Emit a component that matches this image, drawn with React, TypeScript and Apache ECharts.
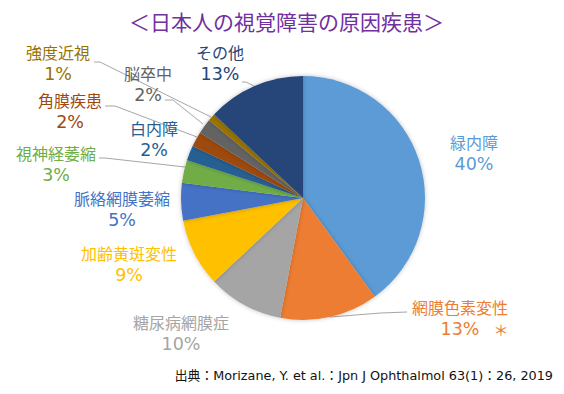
import React, { useEffect, useRef } from "react";
import * as echarts from "echarts";

const title = "＜日本人の視覚障害の原因疾患＞";
const source = "出典：Morizane, Y. et al.：Jpn J Ophthalmol 63(1)：26, 2019";
const categories = [
  "緑内障",
  "網膜色素変性",
  "糖尿病網膜症",
  "加齢黄斑変性",
  "脈絡網膜萎縮",
  "視神経萎縮",
  "白内障",
  "角膜疾患",
  "脳卒中",
  "強度近視",
  "その他",
];
const values = [40, 13, 10, 9, 5, 3, 2, 2, 2, 1, 13];
const sliceColors = [
  "#5B9BD5",
  "#ED7D31",
  "#A5A5A5",
  "#FFC000",
  "#4472C4",
  "#70AD47",
  "#255E91",
  "#9E480E",
  "#636363",
  "#997300",
  "#264478",
];
const labelColors = [
  "#5B9BD5",
  "#ED7D31",
  "#A5A5A5",
  "#FFC000",
  "#4472C4",
  "#70AD47",
  "#255E91",
  "#9E480E",
  "#636363",
  "#997300",
  "#264478",
];
// label centres (layout)
const labelPos: [number, number][] = [
  [474, 153],
  [460, 318],
  [181, 333],
  [129, 264],
  [122, 209],
  [56, 164],
  [154, 139],
  [70, 111],
  [148, 84],
  [58, 63],
  [220, 63],
];
const guideLines: ([number, number][] | null)[] = [
  null,
  [[407, 312], [381, 313], [330, 317]],
  null,
  null,
  null,
  [[99, 158], [105, 158], [185, 167]],
  null,
  [[105, 106], [115, 106], [197, 137]],
  [[165, 100], [173, 100], [203, 124]],
  [[94, 62], [100, 62], [211, 117]],
  [[242, 82], [246, 82], [254, 86]],
];

export default function App() {
  const ref = useRef<HTMLDivElement>(null);
  useEffect(() => {
    if (!ref.current) return;
    const chart = echarts.init(ref.current, undefined, { renderer: "svg" });
    const data = categories.map((name, i) => ({
      name,
      value: values[i],
      itemStyle: { color: sliceColors[i] },
      label: { color: labelColors[i] },
      labelLine: { show: guideLines[i] != null },
    }));
    chart.setOption({
      animation: false,
      backgroundColor: "#ffffff",
      graphic: [
        {
          type: "text",
          x: 286.5,
          y: 21,
          style: {
            text: title,
            align: "center",
            verticalAlign: "middle",
            fontSize: 21,
            fill: "#7030A0",
            fontFamily: "Noto Sans CJK JP",
          },
        },
        {
          type: "text",
          x: 553,
          y: 375,
          style: {
            text: source,
            align: "right",
            verticalAlign: "middle",
            fontSize: 12.8,
            fill: "#111111",
            fontFamily: "DejaVu Sans, Noto Sans CJK JP",
          },
        },
        {
          type: "text",
          x: 501,
          y: 329,
          style: {
            text: "＊",
            align: "center",
            verticalAlign: "middle",
            fontSize: 15,
            fill: "#ED7D31",
            fontFamily: "Noto Sans CJK JP",
          },
        },
      ],
      series: [
        {
          type: "pie",
          center: [303, 198],
          radius: 122,
          startAngle: 90,
          clockwise: true,
          avoidLabelOverlap: false,
          itemStyle: {
            borderWidth: 0,
            shadowBlur: 4,
            shadowColor: "rgba(0,0,0,0.25)",
          },
          emphasis: { disabled: true },
          label: {
            show: true,
            position: "outside",
            formatter: "{n|{b}}\n{p|{c}%}",
            rich: {
              n: {
                fontSize: 16,
                lineHeight: 22,
                fontFamily: "Noto Sans CJK JP",
              },
              p: {
                fontSize: 17.5,
                lineHeight: 23,
                fontFamily: "DejaVu Sans",
              },
            },
          },
          labelLine: {
            show: true,
            lineStyle: { color: "#A6A6A6", width: 1 },
          },
          labelLayout: (params: any) => {
            const i = params.dataIndex;
            const p = labelPos[i];
            const out: any = {
              x: p[0],
              y: p[1],
              align: "center",
              verticalAlign: "middle",
            };
            if (guideLines[i]) out.labelLinePoints = guideLines[i];
            return out;
          },
          data,
        },
      ],
    });
    return () => chart.dispose();
  }, []);
  return (
    <div
      ref={ref}
      style={{ position: "fixed", left: 0, top: 0, width: 564, height: 394 }}
    />
  );
}
